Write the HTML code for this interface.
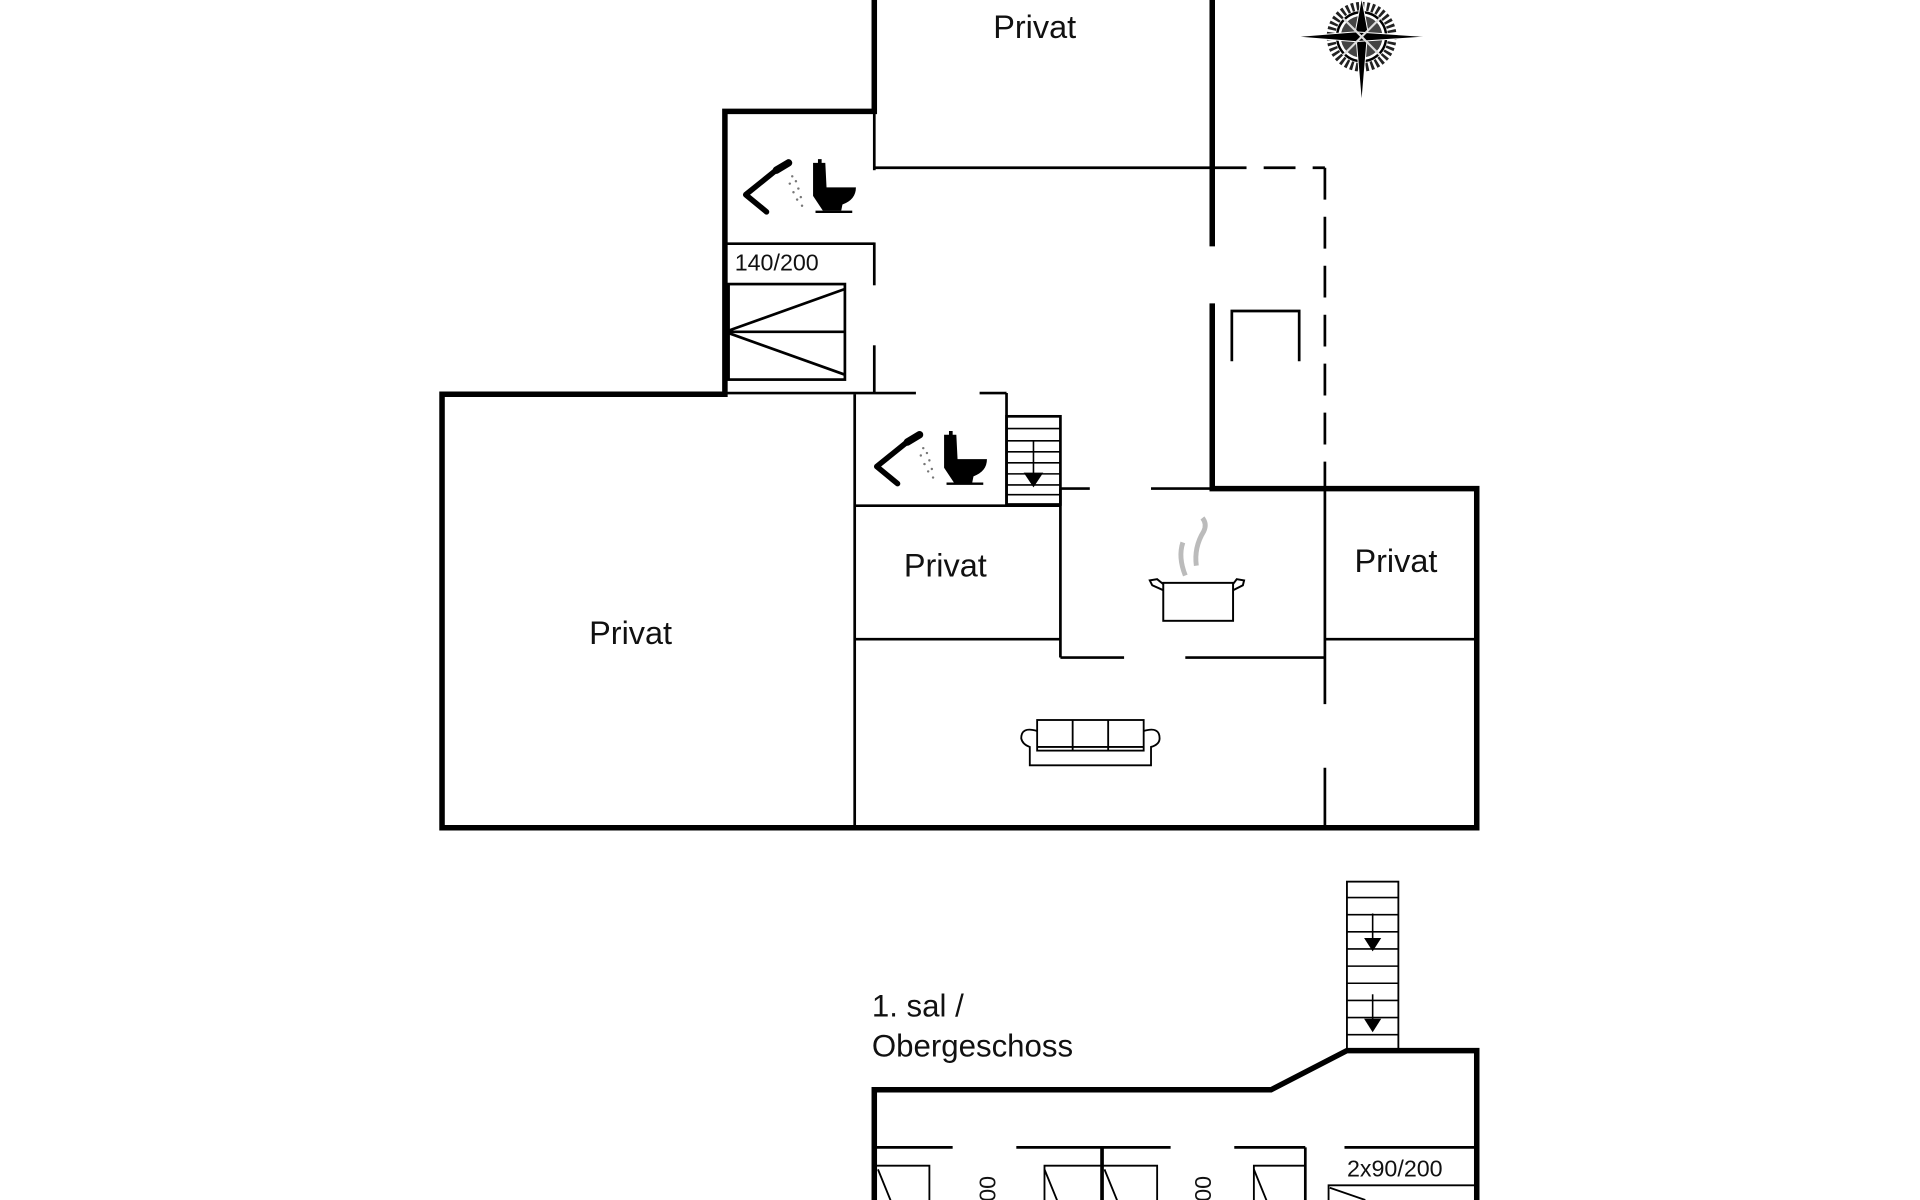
<!DOCTYPE html>
<html><head><meta charset="utf-8"><style>
html,body{margin:0;padding:0;background:#fff;width:1920px;height:1200px;overflow:hidden}
svg{display:block}
text{font-family:"Liberation Sans",Arial,sans-serif;fill:#111}
</style></head><body>
<svg width="1920" height="1200" viewBox="0 0 1568 980" xmlns="http://www.w3.org/2000/svg">
<g stroke="#000" fill="none" stroke-linecap="square">
<g stroke-width="4.5">
<polyline points="714,0 714,91 592,91 592,322 361,322 361,676 1206,676 1206,399 990,399 990,250"/>
<line x1="990" y1="0" x2="990" y2="199"/>
</g>
<g stroke-width="2.2" stroke-linecap="butt">
<line x1="714" y1="91" x2="714" y2="139"/>
<line x1="714" y1="198" x2="714" y2="233"/>
<line x1="714" y1="282" x2="714" y2="321"/>
<line x1="714" y1="137" x2="990" y2="137"/>
<line x1="593" y1="199" x2="714" y2="199"/>
<rect x="595" y="232" width="95" height="78"/>
<line x1="595" y1="271" x2="690" y2="271"/>
<line x1="595" y1="270" x2="690" y2="236"/>
<line x1="595" y1="272" x2="690" y2="306"/>
<line x1="593" y1="321" x2="748" y2="321"/>
<line x1="800" y1="321" x2="822" y2="321"/>
<line x1="822" y1="321" x2="822" y2="412"/>
<line x1="698" y1="322" x2="698" y2="676"/>
<line x1="698" y1="413" x2="866" y2="413"/>
<line x1="866" y1="399" x2="866" y2="537"/>
<line x1="866" y1="399" x2="890" y2="399"/>
<line x1="940" y1="399" x2="990" y2="399"/>
<line x1="698" y1="522" x2="866" y2="522"/>
<line x1="866" y1="537" x2="918" y2="537"/>
<line x1="968" y1="537" x2="1082" y2="537"/>
<line x1="1082" y1="399" x2="1082" y2="575"/>
<line x1="1082" y1="627" x2="1082" y2="676"/>
<line x1="1082" y1="522" x2="1206" y2="522"/>
<g stroke-dasharray="26,14">
<line x1="992" y1="137" x2="1082" y2="137"/>
<line x1="1082" y1="137" x2="1082" y2="398"/>
</g>
<polyline points="1006,295 1006,254 1061,254 1061,295"/>
<rect x="822" y="340" width="44" height="72"/>
</g>
<g stroke-width="1.3">
<line x1="822" y1="350" x2="866" y2="350"/><line x1="822" y1="360" x2="866" y2="360"/>
<line x1="822" y1="369" x2="866" y2="369"/><line x1="822" y1="378" x2="866" y2="378"/>
<line x1="822" y1="387" x2="866" y2="387"/><line x1="822" y1="396" x2="866" y2="396"/>
<line x1="822" y1="404" x2="866" y2="404"/>
<line x1="844" y1="360" x2="844" y2="388"/>
</g>
</g>
<polygon points="836,386 852,386 844,398" fill="#000"/>

<g id="bath">
<polyline points="626,173 609,159 635,138" fill="none" stroke="#000" stroke-width="4.5" stroke-linecap="round" stroke-linejoin="round"/>
<line x1="634" y1="139" x2="644" y2="133" stroke="#000" stroke-width="6" stroke-linecap="round"/>
<g fill="#777"><circle cx="647" cy="144" r="1"/><circle cx="650" cy="148" r="1"/><circle cx="645" cy="150" r="1"/><circle cx="652" cy="154" r="1"/><circle cx="648" cy="157" r="1"/><circle cx="654" cy="161" r="1"/><circle cx="651" cy="163" r="1"/><circle cx="655" cy="168" r="1"/></g>
<path d="M664,133 L668,133 L668,130 L671,130 L671,133 L674,133 L675,153 L699,153 Q699,163 688,167 L687,172 L672,172 L664,160 Z" fill="#000"/>
<line x1="666" y1="173" x2="696" y2="173" stroke="#000" stroke-width="2"/>
</g>
<use href="#bath" transform="translate(107,222)"/>

<g stroke="#000" stroke-width="1.6" fill="none">
<rect x="950" y="476" width="57" height="31" fill="#fff"/>
<path d="M950,482 L941,478 L939,474 L945,473 L950,477"/>
<path d="M1007,482 L1015,478 L1016,474 L1010,473 L1007,477"/>
</g>
<path d="M968,470 Q962,455 966,443 M977,462 Q975,447 983,434 Q986,428 982,423" stroke="#bbb" stroke-width="4" fill="none"/>

<g stroke="#000" stroke-width="1.5" fill="none">
<rect x="847" y="588" width="87" height="25"/>
<line x1="876" y1="588" x2="876" y2="613"/><line x1="905" y1="588" x2="905" y2="613"/>
<line x1="847" y1="610" x2="934" y2="610"/>
<path d="M847,597 Q834,593 834,603 Q835,608 841,610 L841,625 L940,625 L940,610 Q947,608 947,603 Q947,593 934,597"/>
</g>

<g transform="translate(1112,30)">
<circle r="25" fill="none" stroke="#222" stroke-width="7" stroke-dasharray="2.2,2"/>
<circle r="20" fill="#fff" stroke="#000" stroke-width="2"/>
<circle r="17" fill="#444"/>
<polygon points="0,-32 5,-5 0,55 -5,-5" fill="#000" stroke="#fff" stroke-width="0.8"/>
<polygon points="-55,0 -5,-4 55,0 -5,4" fill="#000" stroke="#fff" stroke-width="0.8"/>
<line x1="-15" y1="-15" x2="15" y2="15" stroke="#ddd" stroke-width="1.8"/>
<line x1="15" y1="-15" x2="-15" y2="15" stroke="#ddd" stroke-width="1.8"/>
</g>

<g font-size="26.5" text-anchor="middle">
<text x="845" y="31">Privat</text>
<text x="515" y="526">Privat</text>
<text x="772" y="471">Privat</text>
<text x="1140" y="467">Privat</text>
</g>
<text x="600" y="221" font-size="19">140/200</text>

<text x="712" y="830" font-size="25.5">1. sal /</text>
<text x="712" y="863" font-size="25.5">Obergeschoss</text>
<g stroke="#000" fill="none">
<polyline points="714,982 714,890 1038,890 1100,858 1206,858 1206,982" stroke-width="4.5"/>
<rect x="1100" y="720" width="42" height="138" stroke-width="1.5"/>
<g stroke-width="1.3">
<line x1="1100" y1="733" x2="1142" y2="733"/><line x1="1100" y1="747" x2="1142" y2="747"/>
<line x1="1100" y1="761" x2="1142" y2="761"/><line x1="1100" y1="775" x2="1142" y2="775"/>
<line x1="1100" y1="789" x2="1142" y2="789"/><line x1="1100" y1="803" x2="1142" y2="803"/>
<line x1="1100" y1="817" x2="1142" y2="817"/><line x1="1100" y1="831" x2="1142" y2="831"/>
<line x1="1100" y1="845" x2="1142" y2="845"/>
<line x1="1121" y1="746" x2="1121" y2="770"/><line x1="1121" y1="812" x2="1121" y2="836"/>
</g>
<g stroke-width="2.2">
<line x1="716" y1="937" x2="778" y2="937"/>
<line x1="830" y1="937" x2="956" y2="937"/>
<line x1="1008" y1="937" x2="1066" y2="937"/>
<line x1="1098" y1="937" x2="1206" y2="937"/>
<line x1="900" y1="937" x2="900" y2="982" stroke-width="3"/>
<line x1="1066" y1="937" x2="1066" y2="982"/>
</g>
<g stroke-width="1.5">
<polyline points="716,952 759,952 759,982"/>
<line x1="717" y1="955" x2="728" y2="982"/>
<polyline points="853,982 853,952 945,952 945,982"/>
<line x1="853" y1="955" x2="864" y2="982"/>
<line x1="902" y1="955" x2="913" y2="982"/>
<polyline points="1024,982 1024,952 1066,952"/>
<line x1="1024" y1="955" x2="1035" y2="982"/>
<polyline points="1206,968 1085,968 1085,982"/>
<line x1="1086" y1="970" x2="1115" y2="980"/>
</g>
</g>
<polygon points="1114,766 1128,766 1121,777" fill="#000"/>
<polygon points="1114,832 1128,832 1121,843" fill="#000"/>
<text x="1100" y="961" font-size="19">2x90/200</text>
<text transform="translate(813,992) rotate(-90)" font-size="19">200</text>
<text transform="translate(989,992) rotate(-90)" font-size="19">200</text>
</svg>
</body></html>
